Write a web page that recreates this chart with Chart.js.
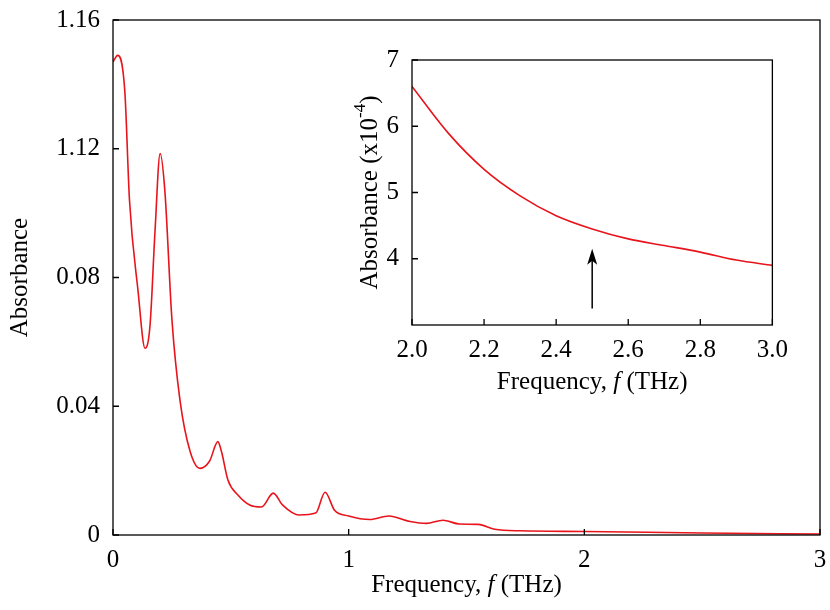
<!DOCTYPE html>
<html><head><meta charset="utf-8">
<script src="https://cdn.jsdelivr.net/npm/chart.js@4"></script>
<style>body{margin:0;background:#fff}#w{position:relative;width:830px;height:610px}
#m{position:absolute;left:0;top:0}#i{position:absolute;left:340px;top:40px}</style></head>
<body><div id="w"><canvas id="m" width="830" height="610"></canvas><canvas id="i" width="450" height="370"></canvas></div>
<script>
const mainFreq=[0,0.02,0.05,0.07,0.106,0.136,0.157,0.178,0.2,0.22,0.25,0.284,0.327,0.369,0.41,0.445,0.46,0.488,0.53,0.58,0.63,0.68,0.72,0.79,0.86,0.9,0.94,1.0,1.09,1.17,1.26,1.33,1.4,1.47,1.55,1.62,1.73,2.0,2.5,3.0];
const mainAbs=[0.147,0.149,0.138,0.104,0.076,0.058,0.065,0.094,0.1185,0.107,0.067,0.042,0.026,0.0207,0.023,0.029,0.026,0.017,0.0124,0.0093,0.0087,0.013,0.0093,0.0062,0.0068,0.0133,0.0077,0.0059,0.0048,0.0059,0.0042,0.0036,0.0046,0.0034,0.0033,0.0018,0.0013,0.0011,0.0006,0.0003];
const mainYTicks=[0,0.04,0.08,0.12,0.16];
const mainYLabels=["0","0.04","0.08","1.12","1.16"];
const mainXTicks=[0,1,2,3];
const insetFreq=[2.0,2.1,2.2,2.3,2.4,2.5,2.6,2.7,2.8,2.9,3.0];
const insetAbs=[6.6,5.9,5.35,4.95,4.65,4.45,4.3,4.2,4.1,3.98,3.9];
const insetXTicks=[2.0,2.2,2.4,2.6,2.8,3.0];
const insetYTicks=[4,5,6,7];
const arrowAt=[2.5,3.25,4.15];
const FONT='"Liberation Serif", serif';
const FS=25;
function frame(tick,xT,yT,xTitleY,yTitleX,yTitle,sup){return{id:'fr',afterDraw(c){const g=c.ctx,a=c.chartArea,x=c.scales.x,y=c.scales.y;
g.save();g.strokeStyle='#000';g.lineWidth=1.3;g.strokeRect(a.left,a.top,a.right-a.left,a.bottom-a.top);
g.beginPath();xT.forEach(v=>{const p=x.getPixelForValue(v);g.moveTo(p,a.bottom);g.lineTo(p,a.bottom-tick);});
yT.forEach(v=>{const p=y.getPixelForValue(v);g.moveTo(a.left,p);g.lineTo(a.left+tick,p);});g.stroke();
g.fillStyle='#000';g.textBaseline='middle';const F=FS+'px '+FONT,FI='italic '+FS+'px '+FONT;
const cx=(a.left+a.right)/2;const s1='Frequency, ',s2='f',s3=' (THz)';
g.font=F;const w1=g.measureText(s1).width,w3=g.measureText(s3).width;g.font=FI;const w2=g.measureText(s2).width;
let sx=cx-(w1+w2+w3)/2;g.textAlign='left';g.font=F;g.fillText(s1,sx,xTitleY);g.font=FI;g.fillText(s2,sx+w1,xTitleY);g.font=F;g.fillText(s3,sx+w1+w2,xTitleY);
g.translate(yTitleX,(a.top+a.bottom)/2);g.rotate(-Math.PI/2);g.font=F;
const tw=g.measureText(yTitle).width;let tot=tw;if(sup){g.font='17px '+FONT;tot+=g.measureText(sup).width;g.font=F;tot+=g.measureText(')').width;}
g.font=F;g.fillText(yTitle,-tot/2,0);if(sup){g.font='17px '+FONT;const sw=g.measureText(sup).width;g.fillText(sup,-tot/2+tw,-9);g.font=F;g.fillText(')',-tot/2+tw+sw,0);}
g.restore();}}}
function axes(xmin,xmax,xT,ymin,ymax,yT,yL,yw,xh,fix){return{x:{type:'linear',min:xmin,max:xmax,afterBuildTicks:s=>{s.ticks=xT.map(v=>({value:v}))},grid:{display:false},border:{display:false},
ticks:{color:'#000',font:{family:FONT,size:FS},padding:2,maxRotation:0,callback:v=>fix?v.toFixed(1):String(v)},afterFit:s=>{s.height=xh}},
y:{type:'linear',min:ymin,max:ymax,afterBuildTicks:s=>{s.ticks=yT.map(v=>({value:v}))},grid:{display:false},border:{display:false},
ticks:{color:'#000',font:{family:FONT,size:FS},padding:5,callback:(v,i)=>yL?yL[i]:String(v)},afterFit:s=>{s.width=yw}}}}
new Chart(document.getElementById('m'),{type:'line',data:{datasets:[{data:mainFreq.map((f,i)=>({x:f,y:mainAbs[i]})),borderColor:'#e8141c',borderWidth:1.6,pointRadius:0,cubicInterpolationMode:'monotone'}]},
options:{responsive:false,animation:false,layout:{padding:{top:18,right:10,left:0,bottom:0}},plugins:{legend:{display:false},tooltip:{enabled:false}},
scales:axes(0,3,mainXTicks,0,0.16,mainYTicks,mainYLabels,113,75,false)},plugins:[frame(6,mainXTicks,mainYTicks,585,20,'Absorbance',null)]});
const arrow={id:'ar',afterDraw(c){const g=c.ctx,x=c.scales.x,y=c.scales.y;const px=x.getPixelForValue(arrowAt[0]),y0=y.getPixelForValue(arrowAt[1]),y1=y.getPixelForValue(arrowAt[2]);
g.save();g.strokeStyle='#000';g.fillStyle='#000';g.lineWidth=1.5;g.beginPath();g.moveTo(px,y0);g.lineTo(px,y1+10);g.stroke();g.beginPath();g.moveTo(px,y1);g.lineTo(px-5,y1+16);g.lineTo(px,y1+12);g.lineTo(px+5,y1+16);g.closePath();g.fill();g.restore();}};
new Chart(document.getElementById('i'),{type:'line',data:{datasets:[{data:insetFreq.map((f,i)=>({x:f,y:insetAbs[i]})),borderColor:'#e8141c',borderWidth:1.6,pointRadius:0,cubicInterpolationMode:'monotone'}]},
options:{responsive:false,animation:false,layout:{padding:{top:18,right:15,left:0,bottom:0}},plugins:{legend:{display:false},tooltip:{enabled:false}},
scales:axes(2,3,insetXTicks,3,7,insetYTicks,null,72,85,true)},plugins:[frame(6,insetXTicks,insetYTicks,342,30,'Absorbance (x10','-4'),arrow]});
</script></body></html>
